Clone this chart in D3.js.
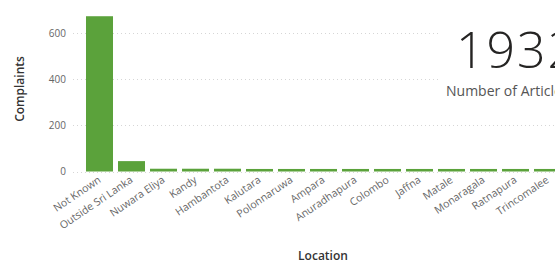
<!DOCTYPE html>
<html>
<head>
<meta charset="utf-8">
<script src="https://cdn.jsdelivr.net/npm/d3@7"></script>
<style>
  body { margin: 0; background: #fff; }
  svg { display: block; font-family: "Open Sans", "Noto Sans", sans-serif; }
</style>
</head>
<body>
<svg id="chart"></svg>
<script>
// data
const locations = ['Not Known', 'Outside Sri Lanka', 'Nuwara Eliya', 'Kandy', 'Hambantota',
    'Kalutara', 'Polonnaruwa', 'Ampara', 'Anuradhapura', 'Colombo', 'Jaffna', 'Matale',
    'Monaragala', 'Ratnapura', 'Trincomalee'];
const complaints = [673, 45, 12, 12, 12, 11, 11, 11, 11, 11, 11, 11, 11, 11, 11];
const yTicks = [0, 200, 400, 600];
const cardValue = '1932';
const cardLabel = 'Number of Articles';

const size = { w: 555, h: 265 };

const svg = d3.select('svg#chart')
    .attr('width', size.w)
    .attr('height', size.h);

const x = d3.scaleBand()
    .domain(locations)
    .range([83.5, 563.5])
    .paddingInner(0.156)
    .paddingOuter(0.078);

const y = d3.scaleLinear()
    .domain([0, 700])
    .range([171.5, 10]);

// gridlines (dotted)
svg.append('g')
    .selectAll('line')
    .data(yTicks)
    .join('line')
    .attr('x1', 73)
    .attr('x2', size.w)
    .attr('y1', d => Math.round(y(d)) + 0.5)
    .attr('y2', d => Math.round(y(d)) + 0.5)
    .attr('stroke', '#d6d6d6')
    .attr('stroke-width', 1)
    .attr('stroke-dasharray', '1,3');

// y axis labels
const yAxis = svg.append('g')
    .attr('transform', 'translate(66,0)')
    .call(d3.axisLeft(y).tickValues(yTicks).tickSize(0).tickPadding(0));
yAxis.select('.domain').remove();
yAxis.selectAll('text')
    .attr('fill', '#666')
    .style('font-size', '10px')
    .style('font-family', '"Open Sans", sans-serif');

// bars
svg.append('g')
    .selectAll('rect')
    .data(locations)
    .join('rect')
    .attr('x', d => x(d))
    .attr('width', x.bandwidth())
    .attr('y', (d, i) => y(complaints[i]))
    .attr('height', (d, i) => y(0) - y(complaints[i]))
    .attr('fill', '#5ba23b');

// x axis labels, rotated
const xAxis = svg.append('g')
    .attr('transform', `translate(0,${y(0) + 4})`)
    .call(d3.axisBottom(x).tickSize(0).tickPadding(0));
xAxis.select('.domain').remove();
xAxis.selectAll('text')
    .attr('fill', '#666')
    .style('font-size', '10.5px')
    .style('font-family', '"Open Sans", sans-serif')
    .attr('text-anchor', 'end')
    .attr('dy', '0.7em')
    .attr('transform', 'translate(-2,0) rotate(-34)');

// axis titles
svg.append('text')
    .attr('transform', 'translate(24,89) rotate(-90)')
    .attr('text-anchor', 'middle')
    .attr('fill', '#333')
    .style('font-size', '12px')
    .style('font-weight', 600)
    .text('Complaints');

svg.append('text')
    .attr('x', 323)
    .attr('y', 260)
    .attr('text-anchor', 'middle')
    .attr('fill', '#333')
    .style('font-size', '12px')
    .style('font-weight', 600)
    .text('Location');

// card overlay
const card = svg.append('g');
card.append('rect')
    .attr('x', 438)
    .attr('y', 0)
    .attr('width', 130)
    .attr('height', 108)
    .attr('fill', '#fff');
card.append('text')
    .attr('x', 456)
    .attr('y', 68)
    .attr('fill', '#252423')
    .style('font-size', '50px')
    .style('font-weight', 300)
    .style('letter-spacing', '2px')
    .text(cardValue);
card.append('text')
    .attr('x', 446)
    .attr('y', 96)
    .attr('fill', '#555')
    .style('font-size', '14px')
    .text(cardLabel);
</script>
</body>
</html>
